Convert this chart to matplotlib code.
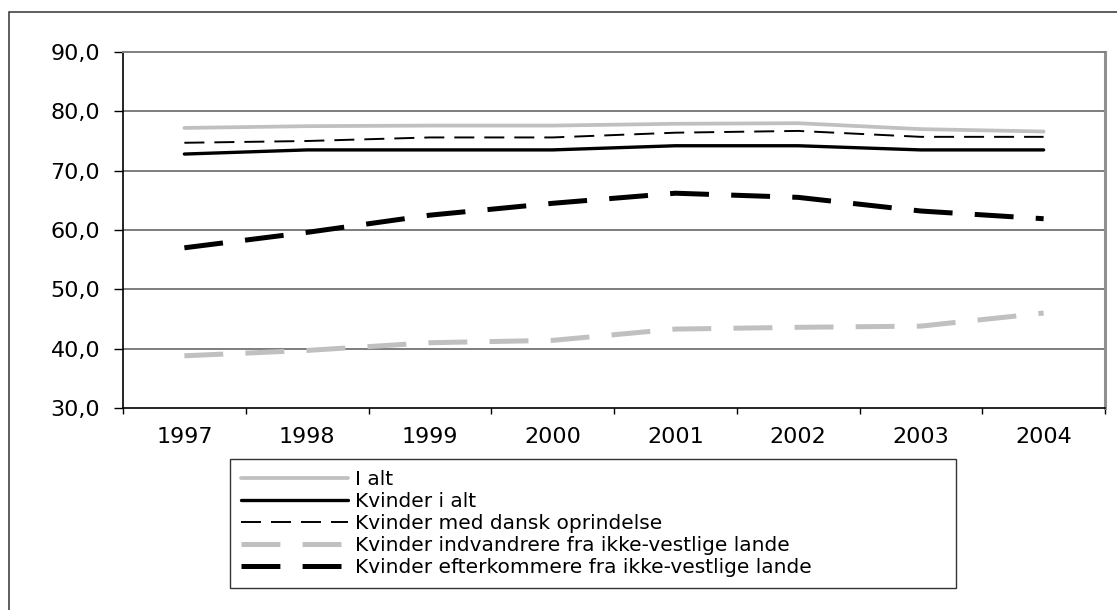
import matplotlib
matplotlib.use('Agg')
import matplotlib.pyplot as plt
from matplotlib.patches import Rectangle
from matplotlib.ticker import FuncFormatter, FixedLocator

# chart data
years = ['1997', '1998', '1999', '2000', '2001', '2002', '2003', '2004']
i_alt = [77.2, 77.5, 77.6, 77.6, 77.9, 78.0, 77.0, 76.6]
kvinder_i_alt = [72.8, 73.5, 73.5, 73.5, 74.2, 74.2, 73.5, 73.5]
kvinder_dansk = [74.7, 75.0, 75.6, 75.6, 76.4, 76.7, 75.7, 75.7]
kvinder_indvandrere = [38.8, 39.7, 41.0, 41.4, 43.3, 43.6, 43.8, 46.0]
kvinder_efterkommere = [57.0, 59.6, 62.5, 64.5, 66.2, 65.5, 63.2, 61.9]

labels = ['I alt',
          'Kvinder i alt',
          'Kvinder med dansk oprindelse',
          'Kvinder indvandrere fra ikke-vestlige lande',
          'Kvinder efterkommere fra ikke-vestlige lande']

W, H = 1117, 610
GRAY = '#c0c0c0'

plt.rcParams['font.family'] = ['DejaVu Sans']
plt.rcParams['lines.scale_dashes'] = False

fig = plt.figure(figsize=(W / 100.0, H / 100.0), dpi=100)

# outer chart border (right and bottom edges fall outside the picture)
fig.patches.append(Rectangle((9.0 / W, -0.1), 1.2, 1.1 - 12.0 / H,
                             transform=fig.transFigure, fill=False,
                             edgecolor='#333333', linewidth=1.1))

ax = fig.add_axes([123.0 / W, 1 - 408.0 / H, 982.0 / W, 356.0 / H])

x = list(range(len(years)))
ax.plot(x, i_alt, color=GRAY, linewidth=2.7, solid_capstyle='round',
        label=labels[0], zorder=3)
ax.plot(x, kvinder_i_alt, color='black', linewidth=2.4,
        solid_capstyle='round', label=labels[1], zorder=4)
ax.plot(x, kvinder_dansk, color='black', linewidth=1.4,
        dashes=(14.4, 7.2), label=labels[2], zorder=4)
ax.plot(x, kvinder_indvandrere, color=GRAY, linewidth=3.6,
        dashes=(28, 16), label=labels[3], zorder=3)
ax.plot(x, kvinder_efterkommere, color='black', linewidth=3.6,
        dashes=(28, 16), label=labels[4], zorder=4)

ax.set_xlim(-0.5, len(years) - 0.5)
ax.set_ylim(30, 90)

# y axis
ax.set_yticks(range(30, 91, 10))
ax.yaxis.set_major_formatter(FuncFormatter(lambda v, p: ('%.1f' % v).replace('.', ',')))
ax.tick_params(axis='y', direction='out', length=6.5, width=1, pad=10,
               labelsize=16, color='black')
for yv in range(40, 90, 10):
    ax.axhline(yv, color='#5a5a5a', linewidth=1.1, zorder=1)

# x axis: labels at centers, ticks at category boundaries
ax.set_xticks(x)
ax.set_xticklabels(years)
ax.tick_params(axis='x', which='major', length=0, pad=14, labelsize=16)
ax.xaxis.set_minor_locator(FixedLocator([i - 0.5 for i in range(len(years) + 1)]))
ax.tick_params(axis='x', which='minor', direction='out', length=4, width=1,
               color='black')

ax.spines['left'].set_color('black')
ax.spines['left'].set_linewidth(1.2)
ax.spines['bottom'].set_color('black')
ax.spines['bottom'].set_linewidth(1.2)
ax.spines['top'].set_color('#808080')
ax.spines['top'].set_linewidth(1.4)
ax.spines['right'].set_color('#909090')
ax.spines['right'].set_linewidth(2.2)

# legend box below the plot
lx0, ly0, lx1, ly1 = 230.0, 459.0, 956.0, 591.0
leg = fig.legend(loc='upper left',
                 bbox_to_anchor=(lx0 / W, 1 - ly1 / H, (lx1 - lx0) / W, (ly1 - ly0) / H),
                 bbox_transform=fig.transFigure, mode='expand',
                 fontsize=14.5, handlelength=5.3, handletextpad=0.35,
                 borderpad=0.55, borderaxespad=0, labelspacing=0.15,
                 fancybox=False, frameon=True)
leg.get_frame().set_edgecolor('black')
leg.get_frame().set_linewidth(1.0)

fig.savefig('out.png', dpi=100)
